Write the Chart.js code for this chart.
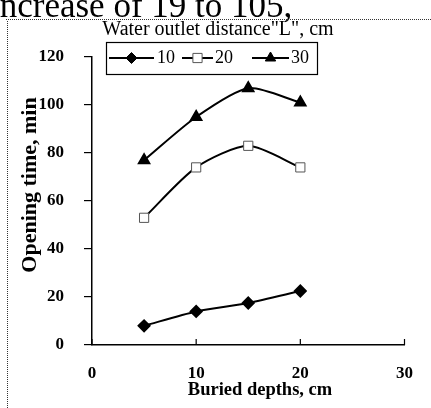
<!DOCTYPE html>
<html>
<head>
<meta charset="utf-8">
<script src="https://cdn.jsdelivr.net/npm/chart.js@4"></script>
<style>
  html, body { margin: 0; padding: 0; background: #fff; }
  #wrap { position: relative; width: 431px; height: 408px; }
</style>
</head>
<body>
<div id="wrap"><canvas id="chart" width="431" height="408"></canvas></div>
<script>
  'use strict';

  // ---- Data ----
  const depths = [5, 10, 15, 20];             // buried depth, cm
  const seriesNames = ['10', '20', '30'];     // water outlet distance L, cm
  const time10 = [8, 14, 17.5, 22.5];
  const time20 = [53, 74, 83, 74];
  const time30 = [77, 95, 107, 101];
  const xTicks = [0, 10, 20, 30];
  const yTicks = [0, 20, 40, 60, 80, 100, 120];

  const serif = "'Liberation Serif', 'DejaVu Serif', serif";

  function pts(values) {
    return depths.map((d, i) => ({ x: d, y: values[i] }));
  }

  const datasets = [
    { label: seriesNames[0], data: pts(time10), pointStyle: 'rectRot', pointRadius: 5.5,
      backgroundColor: '#000', borderColor: '#000', pointBorderColor: '#000' },
    { label: seriesNames[1], data: pts(time20), pointStyle: 'rect', pointRadius: 6.5,
      backgroundColor: '#fff', borderColor: '#000', pointBorderColor: '#555', pointBorderWidth: 1 },
    { label: seriesNames[2], data: pts(time30), pointStyle: 'triangle', pointRadius: 6,
      backgroundColor: '#000', borderColor: '#000', pointBorderColor: '#000' }
  ].map(ds => Object.assign({ borderWidth: 2, tension: 0.25, fill: false }, ds));

  // ---- Frame, heading text, titles, legend and inward x ticks ----
  const decor = {
    id: 'decor',
    beforeDraw(chart) {
      const ctx = chart.ctx;
      ctx.save();
      ctx.fillStyle = '#fff';
      ctx.fillRect(0, 0, chart.width, chart.height);
      // cut-off line of body text above the figure
      ctx.fillStyle = '#000';
      ctx.font = '35px ' + serif;
      ctx.textBaseline = 'alphabetic';
      ctx.fillText('increase of 19 to 105, ', -10, 17);
      // dotted figure frame
      ctx.strokeStyle = '#333';
      ctx.lineWidth = 1;
      ctx.setLineDash([1, 1]);
      ctx.beginPath();
      ctx.moveTo(6, 19.5); ctx.lineTo(431, 19.5);
      ctx.moveTo(7.5, 21); ctx.lineTo(7.5, 408);
      ctx.stroke();
      ctx.restore();
    },
    afterDraw(chart) {
      const ctx = chart.ctx;
      const xs = chart.scales.x, ys = chart.scales.y;
      ctx.save();
      // x tick marks pointing up into the plot
      ctx.strokeStyle = '#000';
      ctx.lineWidth = 1.2;
      xTicks.forEach(v => {
        const px = xs.getPixelForValue(v);
        ctx.beginPath();
        ctx.moveTo(px, ys.bottom);
        ctx.lineTo(px, ys.bottom - 6);
        ctx.stroke();
      });
      ctx.fillStyle = '#000';
      ctx.textAlign = 'center';
      ctx.textBaseline = 'middle';
      // axis titles
      ctx.font = 'bold 18.5px ' + serif;
      ctx.fillText('Buried depths, cm', 260, 390);
      ctx.save();
      ctx.translate(30, 185);
      ctx.rotate(-Math.PI / 2);
      ctx.font = 'bold 22px ' + serif;
      ctx.fillText('Opening time, min', 0, 0);
      ctx.restore();
      // title above legend
      ctx.font = '20px ' + serif;
      ctx.fillText('Water outlet distance"L", cm', 218, 30);
      // legend box
      ctx.lineWidth = 1.2;
      ctx.strokeRect(106.5, 42.5, 211, 32);
      const items = [
        { x0: 109, x1: 154, tx: 157 },
        { x0: 182, x1: 213, tx: 215 },
        { x0: 252, x1: 289, tx: 291 }
      ];
      const ly = 58;
      items.forEach((it, i) => {
        const ds = chart.data.datasets[i];
        ctx.strokeStyle = '#000';
        ctx.lineWidth = 2;
        ctx.beginPath();
        ctx.moveTo(it.x0, ly); ctx.lineTo(it.x1, ly);
        ctx.stroke();
        ctx.fillStyle = ds.backgroundColor;
        ctx.strokeStyle = ds.pointBorderColor;
        ctx.lineWidth = 1;
        Chart.helpers.drawPoint(ctx, {
          pointStyle: ds.pointStyle, radius: ds.pointRadius, rotation: 0, borderWidth: 1
        }, (it.x0 + it.x1) / 2, ly);
        ctx.fillStyle = '#000';
        ctx.font = '18px ' + serif;
        ctx.textAlign = 'left';
        ctx.fillText(ds.label, it.tx, ly);
      });
      ctx.restore();
    }
  };

  new Chart(document.getElementById('chart').getContext('2d'), {
    type: 'line',
    data: { datasets },
    options: {
      responsive: false,
      animation: false,
      layout: { padding: { top: 57, right: 9, bottom: 0, left: 0 } },
      plugins: { legend: { display: false }, tooltip: { enabled: false } },
      scales: {
        x: {
          type: 'linear', min: 0, max: 30,
          afterBuildTicks: s => { s.ticks = xTicks.map(v => ({ value: v })); },
          afterFit: s => { s.height = 63; },
          grid: { display: false, drawTicks: false },
          border: { display: true, color: '#000', width: 1.5 },
          ticks: { color: '#000', padding: 18, maxRotation: 0,
                   font: { family: serif, size: 17, weight: 'bold' } }
        },
        y: {
          min: 0, max: 120,
          afterBuildTicks: s => { s.ticks = yTicks.map(v => ({ value: v })); },
          afterFit: s => { s.width = 92; },
          grid: { drawOnChartArea: false, drawTicks: true, tickLength: 8, color: '#000', lineWidth: 1.2 },
          border: { display: true, color: '#000', width: 1.5 },
          ticks: { color: '#000', padding: 20,
                   font: { family: serif, size: 17, weight: 'bold' } }
        }
      }
    },
    plugins: [decor]
  });
</script>
</body>
</html>
